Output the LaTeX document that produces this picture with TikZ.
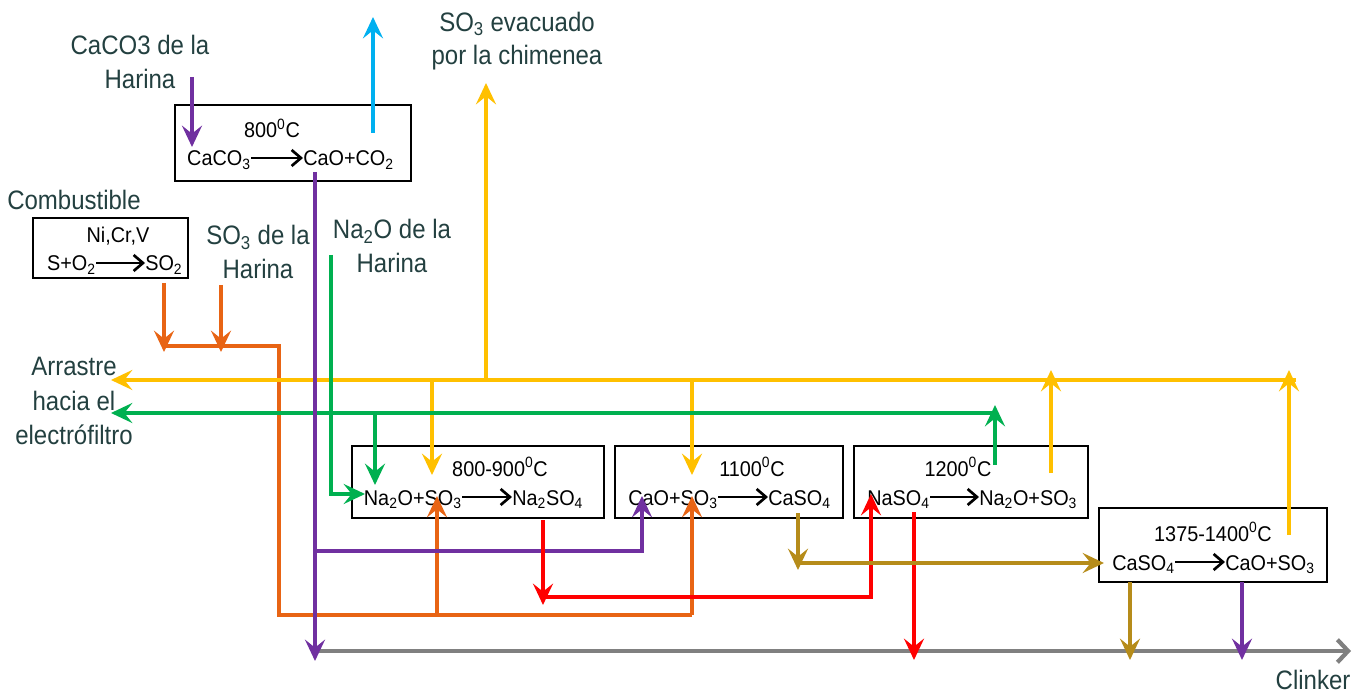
\documentclass[tikz,border=0pt]{standalone}
\usepackage{fontspec}
\setmainfont{Liberation Sans}
\newfontfamily\lblfont[FakeStretch=0.9]{Liberation Sans}
\newfontfamily\boxfont[FakeStretch=0.93]{Liberation Sans}
\usetikzlibrary{arrows.meta}
\definecolor{cpur}{RGB}{112,48,160}
\definecolor{ccyan}{RGB}{0,176,240}
\definecolor{cyel}{RGB}{255,192,0}
\definecolor{cgreen}{RGB}{0,176,80}
\definecolor{corange}{RGB}{232,100,20}
\definecolor{cred}{RGB}{255,0,0}
\definecolor{colive}{RGB}{182,140,26}
\definecolor{cgray}{RGB}{128,128,128}
\definecolor{ctext}{RGB}{35,64,64}
\begin{document}
\begin{tikzpicture}[x=0.75pt,y=-0.75pt,
 flow/.style={line width=3.5pt, -{Stealth[length=16pt,width=15pt,inset=6pt]}},
 plain/.style={line width=3.5pt},
 rbox/.style={draw=black, line width=1.2pt, inner sep=0pt},
 chem/.style={font=\boxfont\fontsize{16}{18}\selectfont, inner sep=0pt, text height=14pt, text depth=2pt},
 lbl/.style={font=\lblfont\fontsize{20}{25}\selectfont, text=ctext, align=center, inner sep=0pt},
 rx/.style={line width=2pt, -{Straight Barb[length=7pt,width=12pt]}}
]
\useasboundingbox (0,0) rectangle (1353,695);

% ---- boxes
\node[rbox, minimum width=177pt, minimum height=57pt] (bA) at (293,143) {};
\node[rbox, minimum width=116.25pt, minimum height=45pt] (bF) at (110.5,248) {};
\node[rbox, minimum width=189pt, minimum height=54pt] (bB) at (478,482) {};
\node[rbox, minimum width=171pt, minimum height=54pt] (bC) at (729,482) {};
\node[rbox, minimum width=175.5pt, minimum height=54pt] (bD) at (971,482) {};
\node[rbox, minimum width=171pt, minimum height=55.5pt] (bE) at (1213,545) {};

% ---- box texts
\node[chem, anchor=base] (tA) at (272,138) {800\textsuperscript{0}C};
\node[chem, anchor=base east] (rA1) at (251,166) {CaCO\textsubscript{3}};
\node[chem, anchor=base west] (rA2) at (303,166) {CaO+CO\textsubscript{2}};
\draw[rx] (rA1.east) -- (rA2.west);

\node[chem, anchor=base] (tF) at (118,243) {Ni,Cr,V};
\node[chem, anchor=base east] (rF1) at (96,271) {S+O\textsubscript{2}};
\node[chem, anchor=base west] (rF2) at (145,271) {SO\textsubscript{2}};
\draw[rx] (rF1.east) -- (rF2.west);

\node[chem, anchor=base] (tB) at (500,476) {800-900\textsuperscript{0}C};
\node[chem, anchor=base east] (rB1) at (462,505) {Na\textsubscript{2}O+SO\textsubscript{3}};
\node[chem, anchor=base west] (rB2) at (512,505) {Na\textsubscript{2}SO\textsubscript{4}};
\draw[rx] (rB1.east) -- (rB2.west);

\node[chem, anchor=base] (tC) at (752,476) {1100\textsuperscript{0}C};
\node[chem, anchor=base east] (rC1) at (718,505) {CaO+SO\textsubscript{3}};
\node[chem, anchor=base west] (rC2) at (768,505) {CaSO\textsubscript{4}};
\draw[rx] (rC1.east) -- (rC2.west);

\node[chem, anchor=base] (tD) at (958,476) {1200\textsuperscript{0}C};
\node[chem, anchor=base east] (rD1) at (930,505) {NaSO\textsubscript{4}};
\node[chem, anchor=base west] (rD2) at (979,505) {Na\textsubscript{2}O+SO\textsubscript{3}};
\draw[rx] (rD1.east) -- (rD2.west);

\node[chem, anchor=base] (tE) at (1213,541) {1375-1400\textsuperscript{0}C};
\node[chem, anchor=base east] (rE1) at (1175,570) {CaSO\textsubscript{4}};
\node[chem, anchor=base west] (rE2) at (1225,570) {CaO+SO\textsubscript{3}};
\draw[rx] (rE1.east) -- (rE2.west);

% ---- labels
\node[lbl] (lCa) at (140,62) {CaCO3 de la\\Harina};
\node[lbl] (lComb) at (74,200) {Combustible};
\node[lbl] (lSO3) at (258,252) {SO\textsubscript{3} de la\\Harina};
\node[lbl] (lNa) at (392,246) {Na\textsubscript{2}O de la\\Harina};
\node[lbl] (lEv) at (517,41) {SO\textsubscript{3} evacuado\\por la chimenea};
\node[lbl, font=\lblfont\fontsize{20}{26}\selectfont] (lArr) at (74,401) {Arrastre\\hacia el\\electrófiltro};
\node[lbl] (lCl) at (1313,680) {Clinker};

% ---- coordinates
\coordinate (pu0) at (192,77);   \coordinate (pu1) at (192,147);
\coordinate (cy0) at (373,133);  \coordinate (cy1) at (373,17);
\coordinate (pm0) at (315,172);  \coordinate (pm1) at (315,661);
\coordinate (pb0) at (315,551);  \coordinate (pb1) at (642,551); \coordinate (pb2) at (642,496);
\coordinate (g0) at (315,651);   \coordinate (g1) at (1351,651);
\coordinate (o1a) at (164,283);  \coordinate (o1b) at (164,352);
\coordinate (o2a) at (221,285);  \coordinate (o2b) at (221,352);
\coordinate (oh0) at (164,346);  \coordinate (oh1) at (279,346); \coordinate (oh2) at (279,615); \coordinate (oh3) at (692,615);
\coordinate (ob0) at (437,615);  \coordinate (ob1) at (437,496);
\coordinate (oc1) at (692,496);
\coordinate (y0) at (1296,380);  \coordinate (y1) at (111,380);
\coordinate (yc0) at (486,380);  \coordinate (yc1) at (486,83);
\coordinate (yb0) at (432,380);  \coordinate (yb1) at (432,475);
\coordinate (yd0) at (692,380);  \coordinate (yd1) at (692,475);
\coordinate (ye0) at (1051,473); \coordinate (ye1) at (1051,370);
\coordinate (yf0) at (1289,535); \coordinate (yf1) at (1289,370);
\coordinate (gr0) at (995,413);  \coordinate (gr1) at (111,413);
\coordinate (gu0) at (995,465);  \coordinate (gu1) at (995,405);
\coordinate (gd0) at (375,413);  \coordinate (gd1) at (375,485);
\coordinate (gn0) at (331,255);  \coordinate (gn1) at (331,494); \coordinate (gn2) at (365,494);
\coordinate (r0) at (543,520);   \coordinate (r1) at (543,605);
\coordinate (rh0) at (543,597);  \coordinate (rh1) at (871,597); \coordinate (rh2) at (871,494);
\coordinate (rd0) at (914,512);  \coordinate (rd1) at (914,660);
\coordinate (ol0) at (798,513);  \coordinate (ol1) at (798,570);
\coordinate (olh0) at (798,563); \coordinate (olh1) at (1104,563);
\coordinate (old0) at (1130,582); \coordinate (old1) at (1130,660);
\coordinate (pe0) at (1242,582); \coordinate (pe1) at (1242,660);

% ---- connectors
\draw[plain, cgray, line width=3.2pt, -{Straight Barb[length=8pt,width=17pt]}] (g0) -- (g1);

\draw[plain, corange] (oh0) -- (oh1) -- (oh2) -- (oh3);
\draw[flow, corange] (o1a) -- (o1b);
\draw[flow, corange] (o2a) -- (o2b);
\draw[flow, corange] (ob0) -- (ob1);
\draw[flow, corange] (oh3) -- (oc1);

\draw[flow, cyel] (y0) -- (y1);
\draw[flow, cyel] (yc0) -- (yc1);
\draw[flow, cyel] (yb0) -- (yb1);
\draw[flow, cyel] (yd0) -- (yd1);
\draw[flow, cyel] (ye0) -- (ye1);
\draw[flow, cyel] (yf0) -- (yf1);

\draw[flow, cgreen] (gr0) -- (gr1);
\draw[flow, cgreen] (gu0) -- (gu1);
\draw[flow, cgreen] (gd0) -- (gd1);
\draw[flow, cgreen] (gn0) -- (gn1) -- (gn2);

\draw[flow, cpur] (pu0) -- (pu1);
\draw[flow, ccyan] (cy0) -- (cy1);
\draw[flow, cpur] (pm0) -- (pm1);
\draw[flow, cpur] (pb0) -- (pb1) -- (pb2);
\draw[flow, cpur] (pe0) -- (pe1);

\draw[flow, cred] (r0) -- (r1);
\draw[flow, cred] (rh0) -- (rh1) -- (rh2);
\draw[flow, cred] (rd0) -- (rd1);

\draw[flow, colive] (ol0) -- (ol1);
\draw[flow, colive] (olh0) -- (olh1);
\draw[flow, colive] (old0) -- (old1);
\end{tikzpicture}
\end{document}
